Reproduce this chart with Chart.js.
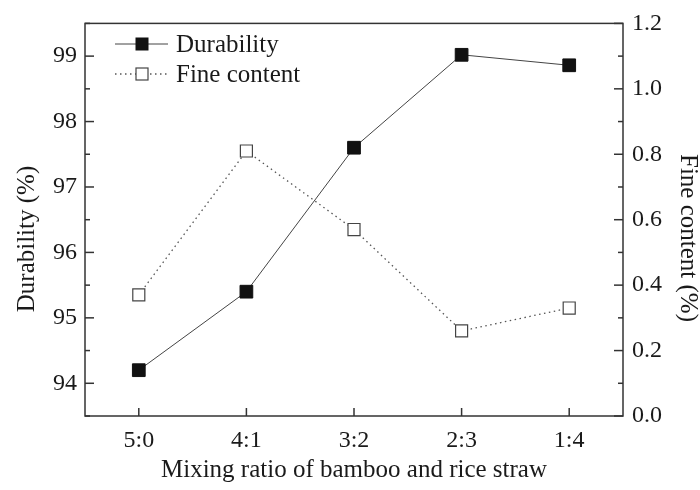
<!DOCTYPE html>
<html lang="en">
<head>
    <meta charset="UTF-8">
    <title>Durability and fine content</title>
    <style>
        html, body { margin: 0; padding: 0; background: #fff; }
        .container { position: relative; width: 700px; height: 490px; }
    </style>
</head>
<body>
    <div class="container">
        <canvas id="myChart"></canvas>
    </div>
    <script src="https://cdn.jsdelivr.net/npm/chart.js@4.4.0/dist/chart.umd.min.js"></script>
    <script>
        // data
        const ratios = ['5:0', '4:1', '3:2', '2:3', '1:4'];
        const durability = [94.2, 95.4, 97.6, 99.02, 98.86];
        const fineContent = [0.37, 0.81, 0.57, 0.26, 0.33];
        const durabilityTicks = [94, 95, 96, 97, 98, 99];
        const fineTicks = [0, 0.2, 0.4, 0.6, 0.8, 1.0, 1.2];

        const xTitle = 'Mixing ratio of bamboo and rice straw';
        const yTitle = 'Durability (%)';
        const y1Title = 'Fine content (%)';

        const FONT = '"Liberation Serif", "Times New Roman", serif';
        const INK = '#1a1a1a';
        let ctx = document.getElementById('myChart').getContext('2d');

        // frame, inward ticks, legend and y titles
        const decor = {
            id: 'decor',
            afterDraw(chart) {
                const { ctx, chartArea: a, scales } = chart;
                ctx.save();
                ctx.strokeStyle = '#333';
                ctx.lineWidth = 1.5;
                ctx.strokeRect(a.left, a.top, a.right - a.left, a.bottom - a.top);

                const tick = (x1, y1, x2, y2) => {
                    ctx.beginPath();
                    ctx.moveTo(x1, y1);
                    ctx.lineTo(x2, y2);
                    ctx.stroke();
                };
                ratios.forEach((r, i) => {
                    const x = scales.x.getPixelForValue(i);
                    tick(x, a.bottom, x, a.bottom - 8);
                });
                for (let k = 0; k <= 12; k++) {
                    const v = scales.y.min + k * 0.5;
                    const y = scales.y.getPixelForValue(v);
                    tick(a.left, y, a.left + (k % 2 === 1 ? 9 : 5), y);
                }
                for (let k = 0; k <= 12; k++) {
                    const y = scales.y1.getPixelForValue(k / 10);
                    tick(a.right, y, a.right - (k % 2 === 0 ? 9 : 5), y);
                }

                // legend
                ctx.font = '25px ' + FONT;
                ctx.textBaseline = 'middle';
                ctx.textAlign = 'left';
                chart.data.datasets.forEach((ds, i) => {
                    const y = 44 + i * 30;
                    ctx.strokeStyle = ds.borderColor;
                    ctx.lineWidth = ds.borderWidth;
                    ctx.setLineDash(ds.borderDash || []);
                    tick(115, y, 168, y);
                    ctx.setLineDash([]);
                    ctx.fillStyle = ds.pointBackgroundColor;
                    ctx.strokeStyle = ds.pointBorderColor;
                    ctx.lineWidth = ds.pointBorderWidth;
                    ctx.fillRect(136, y - 6, 12, 12);
                    ctx.strokeRect(136, y - 6, 12, 12);
                    ctx.fillStyle = INK;
                    ctx.fillText(ds.label, 176, y + 1);
                });

                // y axis titles
                ctx.textAlign = 'center';
                ctx.save();
                ctx.translate(27, 239);
                ctx.rotate(-Math.PI / 2);
                ctx.fillText(yTitle, 0, 0);
                ctx.restore();
                ctx.save();
                ctx.translate(688, 238);
                ctx.rotate(Math.PI / 2);
                ctx.fillText(y1Title, 0, 0);
                ctx.restore();
                ctx.restore();
            }
        };

        const tickFont = { family: FONT, size: 24 };

        new Chart(ctx, {
            type: 'line',
            data: {
                labels: ratios,
                datasets: [{
                    label: 'Durability',
                    data: durability,
                    yAxisID: 'y',
                    borderColor: '#444',
                    borderWidth: 1,
                    pointStyle: 'rect',
                    pointRadius: 9,
                    pointBackgroundColor: '#111',
                    pointBorderColor: '#111',
                    pointBorderWidth: 1
                }, {
                    label: 'Fine content',
                    data: fineContent,
                    yAxisID: 'y1',
                    borderColor: '#555',
                    borderWidth: 1.3,
                    borderDash: [1.5, 3.5],
                    pointStyle: 'rect',
                    pointRadius: 8.5,
                    pointBackgroundColor: '#fff',
                    pointBorderColor: '#444',
                    pointBorderWidth: 1.2
                }]
            },
            options: {
                responsive: true,
                maintainAspectRatio: false,
                animation: false,
                layout: { padding: { top: 23, left: 0, right: 0, bottom: 0 } },
                plugins: {
                    legend: { display: false },
                    tooltip: { enabled: false }
                },
                scales: {
                    x: {
                        type: 'category',
                        offset: true,
                        grid: { display: false, drawTicks: false },
                        border: { display: false },
                        ticks: { font: tickFont, color: INK, padding: 10, maxRotation: 0 },
                        title: {
                            display: true, text: xTitle, color: INK,
                            font: { family: FONT, size: 25, lineHeight: 1 },
                            padding: { top: 0, bottom: 7 }
                        },
                        afterFit: s => { s.height = 74; }
                    },
                    y: {
                        position: 'left',
                        min: 93.5,
                        max: 99.5,
                        grid: { display: false, drawTicks: false },
                        border: { display: false },
                        ticks: { font: tickFont, color: INK, padding: 8 },
                        afterBuildTicks: s => { s.ticks = durabilityTicks.map(v => ({ value: v })); },
                        afterFit: s => { s.width = 85; }
                    },
                    y1: {
                        position: 'right',
                        min: 0,
                        max: 1.2,
                        grid: { display: false, drawTicks: false },
                        border: { display: false },
                        ticks: { font: tickFont, color: INK, padding: 9, callback: v => Number(v).toFixed(1) },
                        afterBuildTicks: s => { s.ticks = fineTicks.map(v => ({ value: v })); },
                        afterFit: s => { s.width = 77; }
                    }
                }
            },
            plugins: [decor]
        });
    </script>
</body>
</html>
